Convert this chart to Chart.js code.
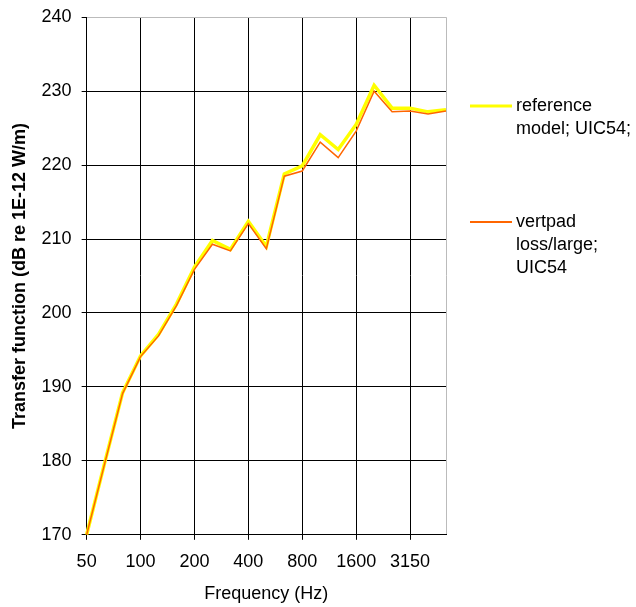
<!DOCTYPE html>
<html>
<head>
<meta charset="utf-8">
<script src="https://cdn.jsdelivr.net/npm/chart.js@4/dist/chart.umd.min.js"></script>
<style>
  html, body { margin: 0; padding: 0; background: #fff; }
  #wrap { width: 636px; height: 607px; position: relative; }
</style>
</head>
<body>
<div id="wrap"><canvas id="c" width="636" height="607"></canvas></div>
<script>
// Data
const frequencies = ['50','63','80','100','125','160','200','250','315','400','500','630','800','1000','1250','1600','2000','2500','3150','4000','5000'];
const referenceModel = [170.0, 179.7, 189.2, 194.2, 197.1, 201.2, 206.2, 209.8, 208.6, 212.4, 209.0, 218.8, 219.9, 224.1, 222.1, 225.5, 230.8, 227.7, 227.7, 227.2, 227.5];
const vertpadLoss    = [170.0, 179.6, 189.1, 194.1, 196.9, 201.0, 205.9, 209.3, 208.4, 212.1, 208.7, 218.5, 219.2, 223.1, 221.0, 224.6, 230.0, 227.2, 227.3, 226.9, 227.3];
const seriesNames = ['reference model; UIC54;', 'vertpad loss/large; UIC54'];
const legendLines = [['reference', 'model; UIC54;'], ['vertpad', 'loss/large;', 'UIC54']];
const yMin = 170, yMax = 240, yStep = 10;
const yTitle = 'Transfer function (dB re 1E-12 W/m)';
const xTitle = 'Frequency (Hz)';

const FONT = "'Liberation Sans', Arial, sans-serif";

const legendPlugin = {
  id: 'sideLegend',
  afterDraw(chart) {
    const ctx = chart.ctx;
    const items = [
      { color: '#FFFF00', width: 3, y: 106 },
      { color: '#FF6600', width: 2, y: 222 }
    ];
    ctx.save();
    ctx.font = '18px ' + FONT;
    ctx.textBaseline = 'middle';
    ctx.textAlign = 'left';
    items.forEach((it, i) => {
      ctx.strokeStyle = it.color;
      ctx.lineWidth = it.width;
      ctx.beginPath();
      ctx.moveTo(470, it.y);
      ctx.lineTo(512, it.y);
      ctx.stroke();
      ctx.fillStyle = '#000';
      legendLines[i].forEach((t, k) => {
        ctx.fillText(t, 516, it.y + k * 23);
      });
    });
    ctx.restore();
  }
};

new Chart(document.getElementById('c'), {
  type: 'line',
  data: {
    labels: frequencies,
    datasets: [
      {
        label: seriesNames[0],
        data: referenceModel,
        borderColor: '#FFFF00',
        backgroundColor: '#FFFF00',
        borderWidth: 3.5,
        pointRadius: 0,
        tension: 0,
        order: 1
      },
      {
        label: seriesNames[1],
        data: vertpadLoss,
        borderColor: '#FF6600',
        backgroundColor: '#FF6600',
        borderWidth: 1.5,
        pointRadius: 0,
        tension: 0,
        order: 0
      }
    ]
  },
  options: {
    responsive: false,
    animation: false,
    layout: { padding: { left: 5, right: 190, top: 6, bottom: 1 } },
    plugins: {
      legend: { display: false },
      tooltip: { enabled: false }
    },
    scales: {
      x: {
        offset: false,
        border: { display: true, color: '#000', width: 1 },
        grid: {
          color: (c) => (c.index % 3 === 0 ? '#000' : (c.index === frequencies.length - 1 ? '#bbb' : 'rgba(0,0,0,0)')),
          tickColor: (c) => (c.index % 3 === 0 ? '#000' : 'rgba(0,0,0,0)'),
          tickLength: 5,
          lineWidth: 1
        },
        ticks: {
          autoSkip: false,
          maxRotation: 0,
          minRotation: 0,
          padding: 11,
          color: '#000',
          font: { family: FONT, size: 18 },
          callback: (v, i) => (i % 3 === 0 ? frequencies[i] : '')
        },
        title: {
          display: true,
          text: xTitle,
          color: '#000',
          font: { family: FONT, size: 18 },
          padding: { top: 0, bottom: 1 }
        }
      },
      y: {
        min: yMin,
        max: yMax,
        border: { display: true, color: '#000', width: 1 },
        grid: {
          color: (c) => (c.tick && c.tick.value === yMax ? '#bbb' : '#000'),
          tickColor: '#000',
          tickLength: 5,
          lineWidth: 1
        },
        ticks: {
          stepSize: yStep,
          padding: 10,
          color: '#000',
          font: { family: FONT, size: 18, lineHeight: 0.8 }
        },
        title: {
          display: true,
          text: yTitle,
          color: '#000',
          font: { family: FONT, size: 18, weight: 'bold' },
          padding: { top: 4, bottom: 1 }
        }
      }
    }
  },
  plugins: [legendPlugin]
});
</script>
</body>
</html>
